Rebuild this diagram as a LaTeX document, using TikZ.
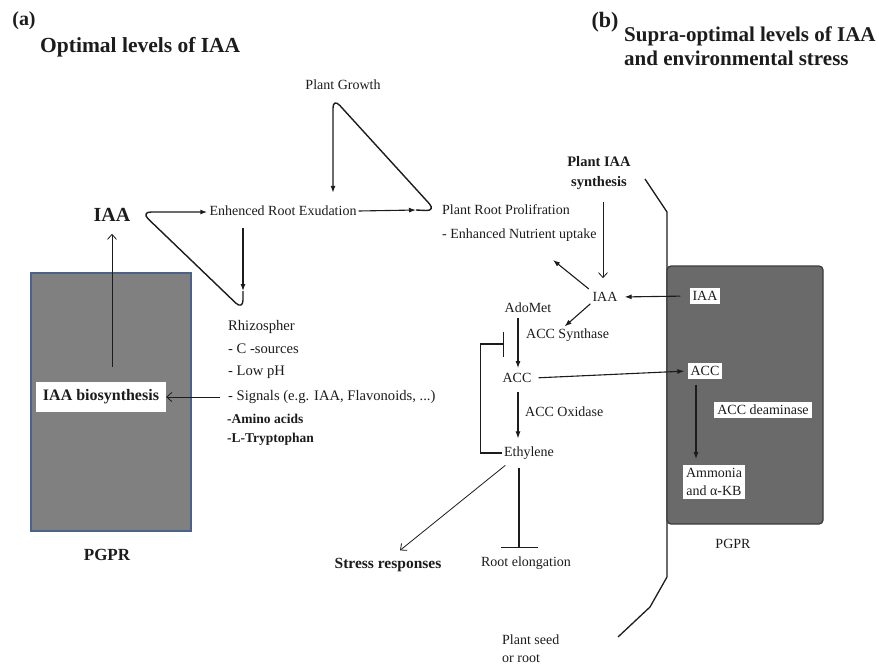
\documentclass[tikz,border=0pt]{standalone}
\usepackage{fontspec}
\setmainfont{Liberation Serif}
\usetikzlibrary{arrows.meta}
\definecolor{pgprgrayA}{RGB}{128,128,128}
\definecolor{pgprgrayB}{RGB}{106,106,106}
\definecolor{pgpredge}{RGB}{74,98,142}
\definecolor{pgprrim}{RGB}{60,60,60}
\definecolor{ink}{RGB}{28,28,28}
\begin{document}
\begin{tikzpicture}[x=1pt,y=-1pt,
  txt/.style={font=\fontsize{14}{18}\selectfont, inner sep=2pt, text=ink},
  list/.style={font=\fontsize{14.6}{18}\selectfont, inner sep=0pt, text=ink, anchor=west},
  blist/.style={font=\fontsize{13.5}{16}\selectfont\bfseries, inner sep=0pt, text=ink, anchor=west},
  head/.style={font=\fontsize{20}{22}\selectfont\bfseries, inner sep=0pt, text=ink},
  whitebox/.style={fill=white, inner sep=3pt, font=\fontsize{14}{17}\selectfont, text=ink},
  fa/.style={draw=ink, line width=1.1pt, -{Latex[length=7pt,width=5pt]}},
  oa/.style={draw=ink, line width=0.8pt, -{Straight Barb[length=5pt,width=9pt]}},
  loopline/.style={draw=ink, line width=1.4pt, rounded corners=10pt, -{Latex[length=7pt,width=5pt]}},
  inhib/.style={draw=ink, line width=1.1pt, -{Bar[width=25pt]}},
  inhibwide/.style={draw=ink, line width=1.1pt, -{Bar[width=37pt]}}]
\useasboundingbox (0,0) rectangle (879,665);

% ---------- panel (a): optimal levels of IAA ----------
\node[head] (lblA) at (24,21) {(a)};
\node[head, anchor=west, font=\fontsize{21.5}{24}\selectfont\bfseries] (titleA) at (40,47) {Optimal levels of IAA};

\node[txt] (growth) at (343,85) {Plant Growth};
\node[txt] (exud) at (283,211) {Enhenced Root Exudation};
\node[head] (iaaL) at (112,215) {IAA};

% PGPR cell (left)
\node[draw=pgpredge, fill=pgprgrayA, line width=1.8pt, minimum width=160, minimum height=258, inner sep=0pt] (pgprL) at (111,402) {};
\node[fill=white, minimum width=130, minimum height=30, inner sep=0pt, font=\fontsize{16}{18}\selectfont\bfseries, text=ink] (bio) at (101,397) {IAA biosynthesis};
\node[font=\fontsize{17}{19}\selectfont\bfseries, text=ink] (pgprLlbl) at (107,555) {PGPR};

% rhizosphere list
\node[list] (rh1) at (228,327) {Rhizospher};
\node[list] (rh2) at (228,349) {- C -sources};
\node[list] (rh3) at (228,372) {- Low pH};
\node[list] (rh4) at (228,397) {- Signals (e.g. IAA, Flavonoids, ...)};
\node[blist] (rh5) at (227,419) {-Amino acids};
\node[blist] (rh6) at (227,439) {-L-Tryptophan};

% loops
\coordinate (rloopIn) at (416,210);
\coordinate (rloopCorner) at (436,211);
\coordinate (rloopTop) at (333,98);
\draw[fa] (exud.east) -- (rloopIn);
\draw[loopline] (rloopIn) -- (rloopCorner) -- (rloopTop) -- ([yshift=11pt]exud.north -| rloopTop);

\coordinate (lloopTip) at (243,291);
\coordinate (lloopCorner) at (243,310);
\coordinate (lloopLeft) at (141,212);
\draw[fa, shorten <=10pt] (exud.south -| lloopTip) -- (lloopTip);
\draw[loopline] (lloopTip) -- (lloopCorner) -- (lloopLeft) -- (exud.west |- lloopLeft);

\draw[oa, shorten <=8pt] (rh4.west) -- (bio.east);
\draw[oa, shorten >=12pt] ([xshift=11pt,yshift=15pt]bio.north) -- (iaaL.south);

% ---------- panel (b): supra-optimal levels of IAA ----------
\node[font=\fontsize{22}{24}\selectfont\bfseries, inner sep=0pt, text=ink] (lblB) at (605,22) {(b)};
\node[font=\fontsize{21}{24}\selectfont\bfseries, inner sep=0pt, text=ink, anchor=north west, align=left] (titleB) at (624,27) {Supra-optimal levels of IAA\\and environmental stress};

% seed / root surface
\draw[ink, line width=1.3pt] (645,179) -- (667,212) -- (667,577) -- (650,607) -- (618,637);

% PGPR cell (right)
\node[draw=pgprrim, fill=pgprgrayB, line width=1.3pt, rounded corners=4pt, minimum width=156, minimum height=258, inner sep=0pt] (pgprR) at (745,395) {};
\node[whitebox] (boxIAA) at (705,296) {IAA};
\node[whitebox] (boxACC) at (705,371) {ACC};
\node[whitebox] (boxDeam) at (763,410) {ACC deaminase};
\node[whitebox, align=center, font=\fontsize{14}{18}\selectfont] (boxAmm) at (714,482) {Ammonia\\and α-KB};
\node[txt] (pgprRlbl) at (733,544) {PGPR};

% plant side of the pathway
\node[font=\fontsize{14.5}{20}\selectfont\bfseries, align=center, inner sep=2pt, text=ink] (plantsyn) at (599,173) {Plant IAA\\synthesis};
\node[txt, anchor=north west, align=left, font=\fontsize{14}{24}\selectfont] (prolif) at (440,202) {Plant Root Prolifration\\- Enhanced Nutrient uptake};
\coordinate (prolifIn) at (553,260);
\node[txt] (iaaR) at (605,297) {IAA};
\node[txt] (adomet) at (528,308) {AdoMet};
\node[txt, anchor=west] (accsyn) at (524,335) {ACC Synthase};
\node[txt] (accP) at (517,378) {ACC};
\node[txt, anchor=west] (accox) at (523,412) {ACC Oxidase};
\node[txt] (ethyl) at (529,453) {Ethylene};
\node[font=\fontsize{15.5}{18}\selectfont\bfseries, inner sep=2pt, text=ink] (stress) at (388,565) {Stress responses};
\node[txt] (rootel) at (526,563) {Root elongation};
\node[txt, anchor=north west, align=left, font=\fontsize{14}{18}\selectfont] (seed) at (500,633) {Plant seed\\or root};

% arrows
\draw[oa, shorten <=10pt, shorten >=12pt] (plantsyn.south -| 603,0) -- (iaaR.north -| 603,0);
\draw[fa, shorten <=2pt] (iaaR.north west) -- (prolifIn);
\draw[fa, shorten <=9pt, shorten >=5pt] (boxIAA.west) -- (iaaR.east);
\draw[fa] (iaaR.south west) -- ([xshift=-3pt]accsyn.north);
\draw[fa, shorten <=3pt, shorten >=3pt] ([xshift=1pt]accP.north |- adomet.south) -- ([xshift=1pt]accP.north);
\draw[inhib] (ethyl.west) -- ++(-21,0) -- ++(0,-109) -- ++(23,0);
\draw[fa, shorten <=5pt, shorten >=3pt] (accP.east) -- (boxACC.west);
\draw[fa, shorten <=7pt, shorten >=6pt] ([xshift=1pt]accP.south) -- ([xshift=1pt]accP.south |- ethyl.north);
\draw[oa, shorten <=6pt, shorten >=9pt] ([xshift=-19pt]ethyl.south) -- ([xshift=5pt]stress.north);
\draw[inhibwide, shorten <=6pt, shorten >=6pt] ([xshift=-10pt]ethyl.south) -- ([xshift=-7pt]rootel.north);
\draw[fa, shorten <=6pt, shorten >=6pt] ([xshift=-9pt]boxACC.south) -- ([xshift=-18pt]boxAmm.north);
\end{tikzpicture}
\end{document}
